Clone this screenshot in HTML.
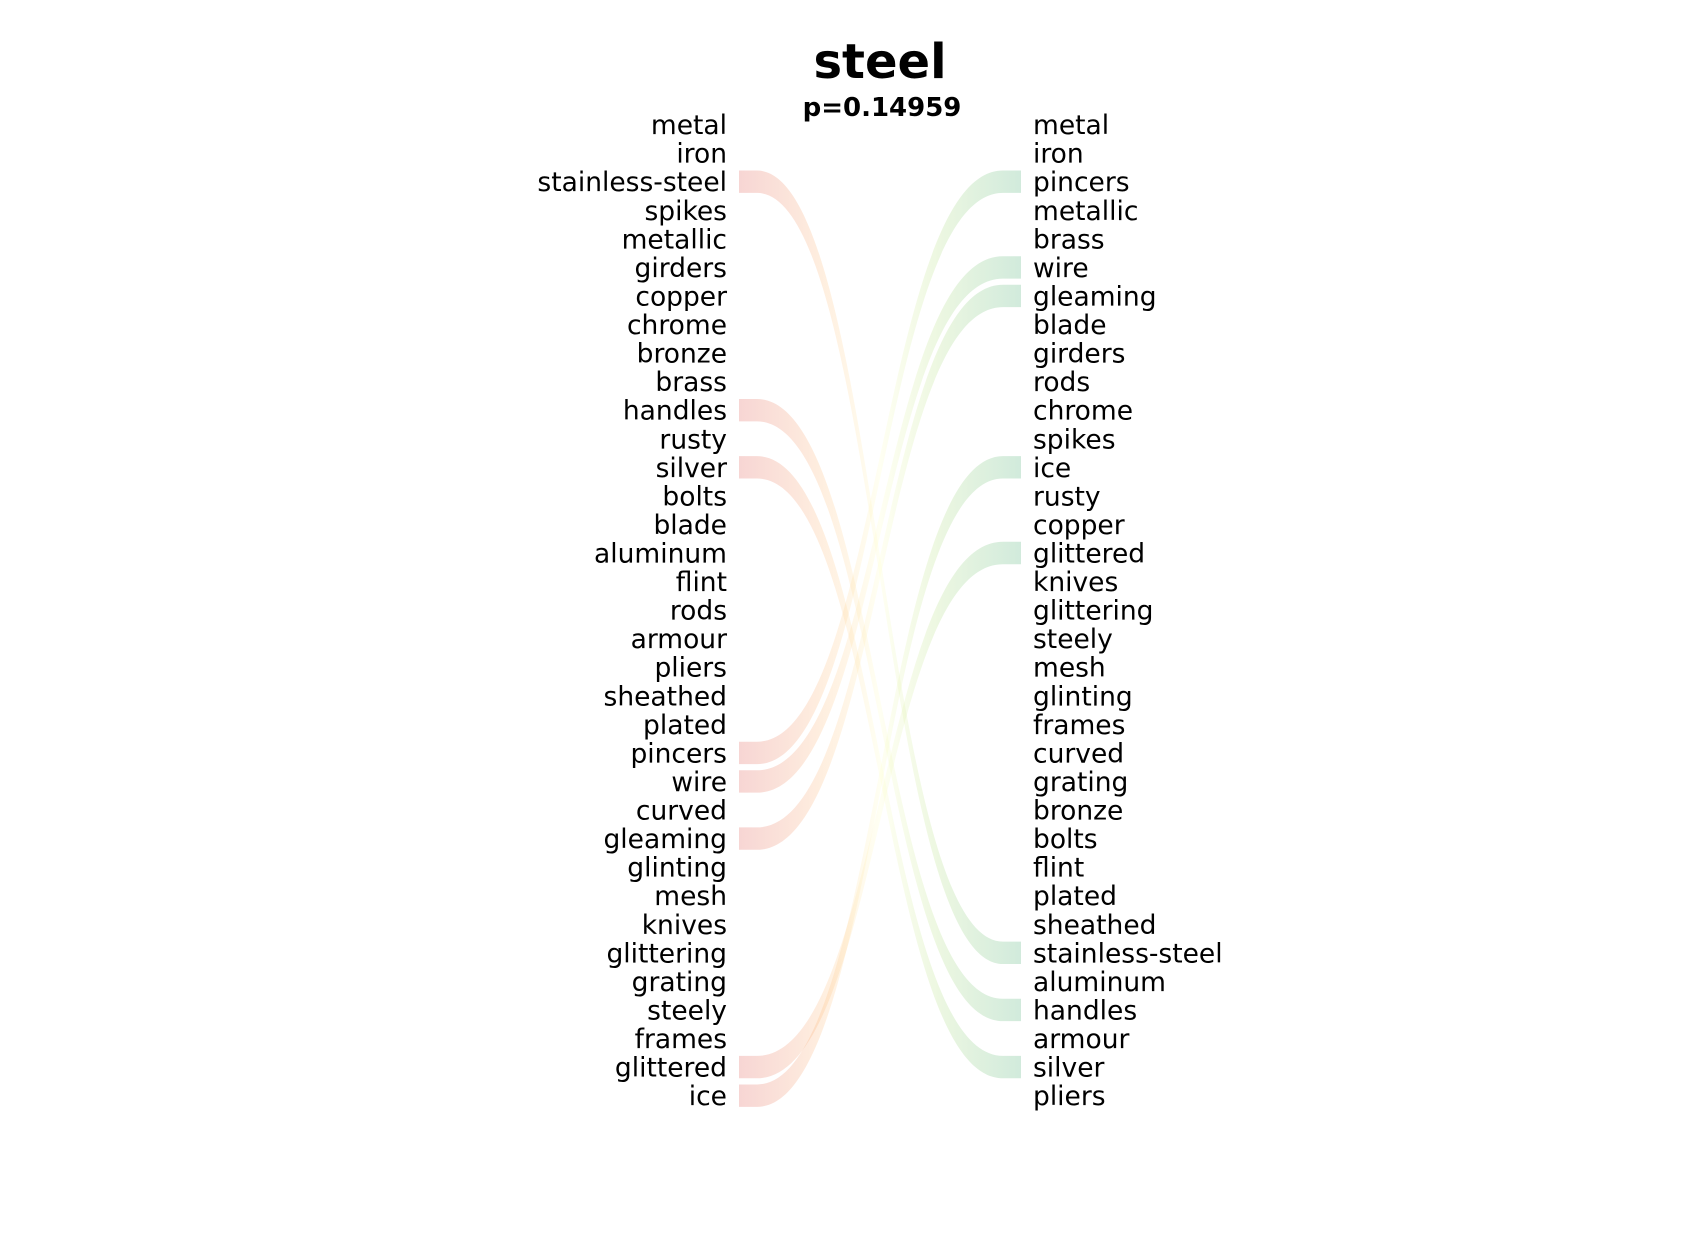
<!DOCTYPE html>
<html><head><meta charset="utf-8"><style>
html,body{margin:0;padding:0;background:#fff;}
svg{display:block;font-family:"DejaVu Sans","Liberation Sans",sans-serif;}
</style></head><body>
<svg id="chart" width="1700" height="1246" viewBox="0 0 1700 1246" xmlns="http://www.w3.org/2000/svg">
<defs>
<linearGradient id="bandgrad" gradientUnits="userSpaceOnUse" x1="739" y1="0" x2="1021" y2="0">
<stop offset="0" stop-color="#d73027"/>
<stop offset="0.3" stop-color="#fdae61"/>
<stop offset="0.5" stop-color="#ffffbf"/>
<stop offset="0.7" stop-color="#a6d96a"/>
<stop offset="1" stop-color="#1a9850"/>
</linearGradient>
</defs>
<text x="880" y="78" font-size="48" font-weight="bold" text-anchor="middle">steel</text>
<text x="882" y="116" font-size="26" font-weight="bold" text-anchor="middle">p=0.14959</text>
<g id="bands"></g>
<g id="left"></g>
<g id="right"></g>
</svg>
<script>
const leftWords = ["metal","iron","stainless-steel","spikes","metallic","girders","copper","chrome","bronze","brass","handles","rusty","silver","bolts","blade","aluminum","flint","rods","armour","pliers","sheathed","plated","pincers","wire","curved","gleaming","glinting","mesh","knives","glittering","grating","steely","frames","glittered","ice"];
const rightWords = ["metal","iron","pincers","metallic","brass","wire","gleaming","blade","girders","rods","chrome","spikes","ice","rusty","copper","glittered","knives","glittering","steely","mesh","glinting","frames","curved","grating","bronze","bolts","flint","plated","sheathed","stainless-steel","aluminum","handles","armour","silver","pliers"];
const linkWords = ["stainless-steel","handles","silver","pincers","wire","gleaming","glittered","ice"];

const NS = "http://www.w3.org/2000/svg";
const y0 = 124.6, dy = 28.56, bh = 22.4;
const yPos = i => y0 + i * dy;
const xL0 = 739, xL1 = 757, xR0 = 1003, xR1 = 1021, xm = (xL1 + xR0) / 2;

const lg = document.getElementById('left');
leftWords.forEach((w, i) => {
  const t = document.createElementNS(NS, 'text');
  
  
  t.setAttribute('x', 727);
  t.setAttribute('y', yPos(i) + 9.5);
  t.setAttribute('font-size', '26.5');
  t.setAttribute('text-anchor', 'end');
  t.textContent = w;
  lg.appendChild(t);
});
const rg = document.getElementById('right');
rightWords.forEach((w, i) => {
  const t = document.createElementNS(NS, 'text');
  
  
  t.setAttribute('x', 1033);
  t.setAttribute('y', yPos(i) + 9.5);
  t.setAttribute('font-size', '26.5');
  t.textContent = w;
  rg.appendChild(t);
});
const bg = document.getElementById('bands');
linkWords.forEach(w => {
  const a = yPos(leftWords.indexOf(w)), b = yPos(rightWords.indexOf(w));
  const h = bh / 2;
  const d = `M${xL0},${a-h} L${xL1},${a-h} C${xm},${a-h} ${xm},${b-h} ${xR0},${b-h} L${xR1},${b-h} L${xR1},${b+h} L${xR0},${b+h} C${xm},${b+h} ${xm},${a+h} ${xL1},${a+h} L${xL0},${a+h} Z`;
  const p = document.createElementNS(NS, 'path');
  
  
  p.setAttribute('d', d);
  p.setAttribute('fill', 'url(#bandgrad)');
  p.setAttribute('fill-opacity', '0.2');
  bg.appendChild(p);
});
</script>
</body></html>
